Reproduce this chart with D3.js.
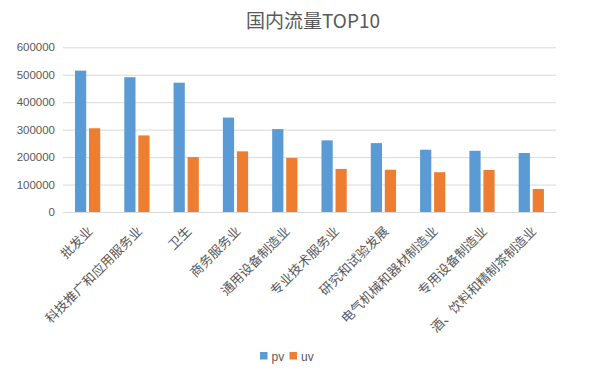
<!DOCTYPE html>
<html>
<head>
<meta charset="utf-8">
<script src="https://cdn.jsdelivr.net/npm/d3@7"></script>
<style>
  body { margin: 0; background: #fff; }
  text { font-family: "Liberation Sans", Arial, sans-serif; }
  .cjk { font-family: "Noto Sans CJK SC", sans-serif; }
</style>
</head>
<body>
<div id="chart-area"></div>
<script>
// data
const categories = ["批发业", "科技推广和应用服务业", "卫生", "商务服务业", "通用设备制造业",
  "专业技术服务业", "研究和试验发展", "电气机械和器材制造业", "专用设备制造业", "酒、饮料和精制茶制造业"]
const series = ["pv", "uv"]
const pv = [515000, 491000, 471000, 344000, 302000, 261000, 251000, 227000, 223000, 215000]
const uv = [305000, 279000, 200000, 221000, 197000, 157000, 154000, 145000, 153000, 84000]
const yTicks = [0, 100000, 200000, 300000, 400000, 500000, 600000]

const WIDTH = 600, HEIGHT = 372
const PLOT = { LEFT: 63, RIGHT: 556, TOP: 47.3, BOTTOM: 212 }
const COLORS = { pv: "#5B9BD5", uv: "#ED7D31" }

const rows = categories.map((c, i) => ({ cat: c, pv: pv[i], uv: uv[i] }))

const svg = d3.select("#chart-area").append("svg")
  .attr("width", WIDTH)
  .attr("height", HEIGHT)

const x0 = d3.scaleBand()
  .domain(categories)
  .range([PLOT.LEFT, PLOT.RIGHT])

const bw = x0.bandwidth()
const x1 = d3.scaleBand()
  .domain(series)
  .range([bw * 0.243, bw * 0.755])
  .paddingInner(0.2)

const y = d3.scaleLinear()
  .domain([0, 600000])
  .range([PLOT.BOTTOM, PLOT.TOP])

// gridlines
const yAxis = d3.axisLeft(y)
  .tickValues(yTicks)
  .tickSize(-(PLOT.RIGHT - PLOT.LEFT))
  .tickPadding(8)
  .tickFormat(d3.format("d"))

const yg = svg.append("g")
  .attr("transform", `translate(${PLOT.LEFT}, 0)`)
  .call(yAxis)
yg.select(".domain").remove()
yg.selectAll(".tick line").attr("stroke", "#D9D9D9").attr("stroke-width", 1)
yg.selectAll(".tick text")
  .attr("fill", "#595959")
  .style("font-size", "11.5px")

// bars
const groups = svg.append("g").selectAll("g")
  .data(rows)
  .enter().append("g")
  .attr("transform", d => `translate(${x0(d.cat)}, 0)`)

groups.selectAll("rect")
  .data(d => series.map(s => ({ key: s, value: d[s] })))
  .enter().append("rect")
  .attr("x", d => x1(d.key))
  .attr("y", d => y(d.value))
  .attr("width", x1.bandwidth())
  .attr("height", d => y(0) - y(d.value))
  .attr("fill", d => COLORS[d.key])

// x axis line
const xAxis = d3.axisBottom(x0).tickSize(0).tickPadding(0)
const xg = svg.append("g")
  .attr("transform", `translate(0, ${PLOT.BOTTOM})`)
  .call(xAxis)
xg.select(".domain").attr("stroke", "#D9D9D9")
xg.selectAll(".tick text")
  .attr("class", "cjk")
  .attr("fill", "#595959")
  .style("font-size", "13px")
  .attr("text-anchor", "end")
  .attr("dy", 0)
  .attr("transform", `translate(${bw * 0.12}, 20) rotate(-45)`)

// title
svg.append("text")
  .attr("class", "cjk")
  .attr("x", 313)
  .attr("y", 28)
  .attr("text-anchor", "middle")
  .attr("fill", "#595959")
  .style("font-size", "19px")
  .text("国内流量TOP10")

// legend
const legend = svg.append("g").selectAll("g")
  .data(series)
  .enter().append("g")
  .attr("transform", (d, i) => `translate(${260 + i * 29.5}, 352)`)

legend.append("rect")
  .attr("width", 7.5)
  .attr("height", 7.5)
  .attr("fill", d => COLORS[d])

legend.append("text")
  .attr("x", 11.5)
  .attr("y", 8.5)
  .attr("fill", "#595959")
  .style("font-size", "12px")
  .text(d => d)
</script>
</body>
</html>
